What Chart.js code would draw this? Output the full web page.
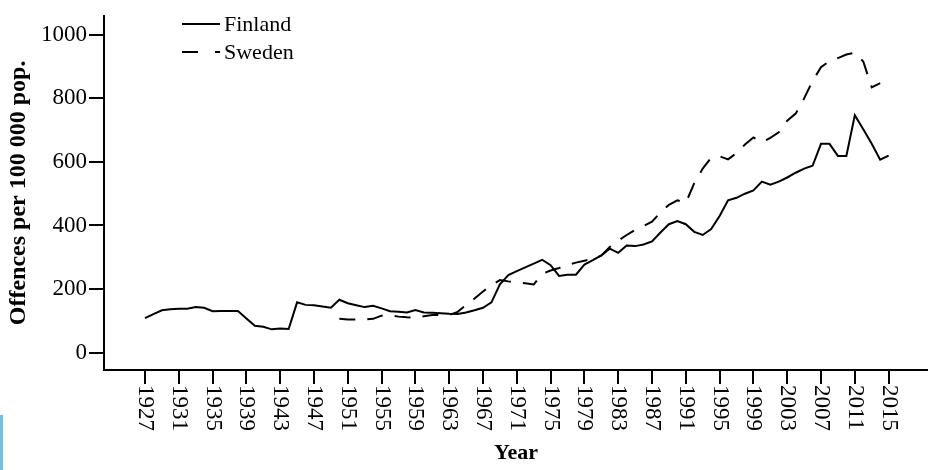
<!DOCTYPE html>
<html>
<head>
<meta charset="utf-8">
<script src="https://cdn.jsdelivr.net/npm/chart.js@4.4.1/dist/chart.umd.min.js"></script>
<style>
  html, body { margin: 0; padding: 0; background: #fff; }
  #wrap { position: relative; width: 928px; height: 470px; }
  #edge { position: absolute; left: 0; top: 415px; width: 3px; height: 55px; background: #6cc1e4; }
</style>
</head>
<body>
<div id="wrap">
  <canvas id="chart" width="928" height="470"></canvas>
  <div id="edge"></div>
</div>
<script>
// years on the x axis, one value per year
const years = [
  1927, 1928, 1929, 1930, 1931, 1932, 1933, 1934, 1935, 1936,
  1937, 1938, 1939, 1940, 1941, 1942, 1943, 1944, 1945, 1946,
  1947, 1948, 1949, 1950, 1951, 1952, 1953, 1954, 1955, 1956,
  1957, 1958, 1959, 1960, 1961, 1962, 1963, 1964, 1965, 1966,
  1967, 1968, 1969, 1970, 1971, 1972, 1973, 1974, 1975, 1976,
  1977, 1978, 1979, 1980, 1981, 1982, 1983, 1984, 1985, 1986,
  1987, 1988, 1989, 1990, 1991, 1992, 1993, 1994, 1995, 1996,
  1997, 1998, 1999, 2000, 2001, 2002, 2003, 2004, 2005, 2006,
  2007, 2008, 2009, 2010, 2011, 2012, 2013, 2014, 2015
];

const finland = [
  108, 121, 133, 136, 138, 138, 143, 141, 130, 131,
  131, 131, 107, 84, 81, 73, 76, 74, 158, 150,
  149, 145, 141, 166, 155, 149, 143, 147, 139, 130,
  128, 126, 134, 126, 125, 124, 122, 121, 126, 133,
  141, 158, 215, 244, 256, 268, 280, 292, 275, 241,
  245, 245, 277, 291, 306, 327, 314, 337, 335, 340,
  350, 378, 404, 414, 404, 380, 370, 389, 430, 479,
  487, 500, 510, 538, 528, 538, 551, 566, 579, 588,
  657, 657, 619, 619, 747, 703, 657, 607, 620
];

// Sweden series starts in 1950 and ends in 2014
const sweden = [
  null, null, null, null, null, null, null, null, null, null,
  null, null, null, null, null, null, null, null, null, null,
  null, null, null, 106, 104, 104, 104, 106, 116, 118,
  113, 111, 110, 114, 118, 118, 118, 128, 150, 170,
  192, 212, 228, 224, 221, 218, 214, 248, 258, 266,
  276, 283, 289, 295, 305, 332, 352, 370, 386, 398,
  412, 441, 465, 479, 471, 533, 579, 613, 618, 608,
  628, 655, 677, 662, 676, 693, 730, 752, 800, 855,
  898, 918, 927, 938, 944, 916, 835, 848, null
];

const xTicks = [1927, 1931, 1935, 1939, 1943, 1947, 1951, 1955, 1959, 1963, 1967,
  1971, 1975, 1979, 1983, 1987, 1991, 1995, 1999, 2003, 2007, 2011, 2015];
const yTicks = [0, 200, 400, 600, 800, 1000];
const seriesNames = ['Finland', 'Sweden'];

const SERIF = '"Liberation Serif", "Times New Roman", serif';
const SWEDEN_DASH = [16, 12];

const toPoints = (vals) => years.map((y, i) => ({ x: y, y: vals[i] }));

// x tick labels read top-to-bottom, so they are drawn here instead of by the scale
const xLabelPlugin = {
  id: 'xLabels',
  afterDraw(chart) {
    const ctx = chart.ctx;
    const scale = chart.scales.x;
    ctx.save();
    ctx.fillStyle = '#000';
    ctx.font = '23px ' + SERIF;
    ctx.textAlign = 'left';
    ctx.textBaseline = 'middle';
    scale.ticks.forEach(t => {
      const x = scale.getPixelForValue(t.value);
      ctx.save();
      ctx.translate(x, 385);
      ctx.rotate(Math.PI / 2);
      ctx.fillText(String(t.value), 0, 0);
      ctx.restore();
    });
    ctx.restore();
  }
};

const legendPlugin = {
  id: 'cornerLegend',
  afterDraw(chart) {
    const ctx = chart.ctx;
    const rows = [
      { name: seriesNames[0], dash: [], y: 24 },
      { name: seriesNames[1], dash: [16, 17], y: 52 }
    ];
    ctx.save();
    ctx.fillStyle = '#000';
    ctx.strokeStyle = '#000';
    ctx.lineWidth = 2;
    ctx.font = '22px ' + SERIF;
    ctx.textAlign = 'left';
    ctx.textBaseline = 'middle';
    rows.forEach(r => {
      ctx.setLineDash(r.dash);
      ctx.beginPath();
      ctx.moveTo(182, r.y);
      ctx.lineTo(220, r.y);
      ctx.stroke();
      ctx.fillText(r.name, 224, r.y + 1);
    });
    ctx.restore();
  }
};

new Chart(document.getElementById('chart'), {
  type: 'line',
  data: {
    datasets: [
      {
        label: seriesNames[0],
        data: toPoints(finland),
        borderColor: '#000',
        borderWidth: 2,
        pointRadius: 0,
        tension: 0
      },
      {
        label: seriesNames[1],
        data: toPoints(sweden),
        borderColor: '#000',
        borderWidth: 2,
        borderDash: SWEDEN_DASH,
        pointRadius: 0,
        tension: 0,
        spanGaps: false
      }
    ]
  },
  options: {
    responsive: false,
    animation: false,
    devicePixelRatio: 1,
    layout: { padding: { top: 10, right: 0, bottom: 0, left: 0 } },
    plugins: {
      legend: { display: false },
      tooltip: { enabled: false }
    },
    scales: {
      x: {
        type: 'linear',
        min: 1922.15,
        max: 2019.66,
        afterBuildTicks: (scale) => { scale.ticks = xTicks.map(v => ({ value: v })); },
        afterFit: (scale) => { scale.height = 100; },
        ticks: { display: false },
        grid: { drawOnChartArea: false, drawTicks: true, tickLength: 14, color: '#000', lineWidth: 2 },
        border: { display: true, color: '#000', width: 2 },
        title: {
          display: true,
          text: 'Year',
          color: '#000',
          font: { family: SERIF, size: 22, weight: 'bold' },
          padding: { top: 0, bottom: 3 }
        }
      },
      y: {
        min: -55,
        max: 1060,
        afterBuildTicks: (scale) => { scale.ticks = yTicks.map(v => ({ value: v })); },
        afterFit: (scale) => { scale.width = 104; },
        ticks: {
          color: '#000',
          padding: 2,
          font: { family: SERIF, size: 23 },
          callback: (v) => String(v)
        },
        grid: { drawOnChartArea: false, drawTicks: true, tickLength: 15, color: '#000', lineWidth: 2 },
        border: { display: true, color: '#000', width: 2 },
        title: {
          display: true,
          text: 'Offences per 100 000 pop.',
          color: '#000',
          font: { family: SERIF, size: 24, weight: 'bold' },
          padding: { top: 4, bottom: 0 }
        }
      }
    }
  },
  plugins: [xLabelPlugin, legendPlugin]
});
</script>
</body>
</html>
